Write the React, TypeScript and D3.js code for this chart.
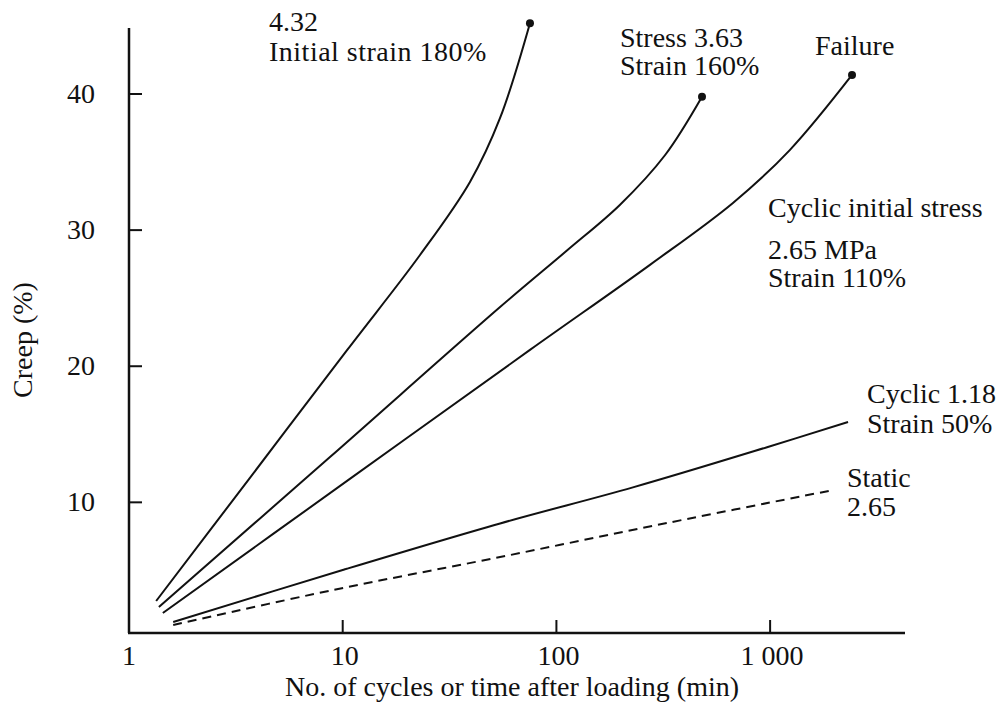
import React, { useEffect } from "react";
import * as d3 from "d3";

// ---- data (x = cycles / minutes, y = creep %) ----
const curveA_x = [1.34, 3.68, 10.5, 23.0, 39.4, 54.5, 75.2];
const curveA_y = [2.75, 11.8, 21.2, 28.17, 33.54, 38.24, 45.2];

const curveB_x = [1.38, 8.72, 54.5, 112, 198, 322, 480];
const curveB_y = [2.31, 13.33, 24.35, 28.5, 31.85, 35.5, 39.8];

const curveC_x = [1.44, 10.8, 75.2, 274, 670, 1239, 2417];
const curveC_y = [1.87, 11.72, 21.2, 27.45, 32.0, 35.9, 41.4];

const curveD_x = [1.61, 10.0, 54.5, 228, 967, 2315];
const curveD_y = [1.21, 5.03, 8.45, 11.1, 14.05, 15.9];

const curveE_x = [1.61, 9.01, 54.5, 329, 1969];
const curveE_y = [0.99, 3.56, 5.98, 8.48, 10.9];

const xTicks = [1, 10, 100, 1000];
const xTickLabels = ["1", "10", "100", "1 000"];
const yTicks = [10, 20, 30, 40];

const xTitle = "No. of cycles or time after loading (min)";
const yTitle = "Creep (%)";

const FONT = "'Liberation Serif', 'Times New Roman', serif";

export default function App() {
  useEffect(() => {
    document.body.style.margin = "0";
  }, []);

  const W = 999;
  const H = 702;
  const x = d3.scaleLog().domain([1, 4277]).range([129, 905]);
  const y = d3.scaleLinear().domain([0.4, 44.85]).range([633, 28]);

  const line = d3
    .line<[number, number]>()
    .x((d) => x(d[0]))
    .y((d) => y(d[1]))
    .curve(d3.curveCatmullRom.alpha(0.5));

  const zip = (xs: number[], ys: number[]) =>
    xs.map((v, i) => [v, ys[i]] as [number, number]);

  const solid = [
    zip(curveA_x, curveA_y),
    zip(curveB_x, curveB_y),
    zip(curveC_x, curveC_y),
    zip(curveD_x, curveD_y),
  ];
  const dashed = zip(curveE_x, curveE_y);
  const ends = [solid[0], solid[1], solid[2]].map((s) => s[s.length - 1]);

  const [x0, x1] = x.range();
  const [y0, y1] = y.range();

  const txt = { fontFamily: FONT, fontSize: 28, fill: "#111" } as const;

  return (
    <svg width={W} height={H} style={{ display: "block", background: "#fff" }}>
      {/* axes */}
      <line x1={x0} y1={y0} x2={x0} y2={y1} stroke="#111" strokeWidth={2.5} />
      <line x1={x0 - 1} y1={y0} x2={x1} y2={y0} stroke="#111" strokeWidth={2.5} />
      {yTicks.map((t) => (
        <g key={"yt" + t}>
          <line x1={x0} x2={x0 + 13} y1={y(t)} y2={y(t)} stroke="#111" strokeWidth={2} />
          <text x={95} y={y(t) + 9} textAnchor="end" {...txt}>
            {t}
          </text>
        </g>
      ))}
      {xTicks.map((t, i) => (
        <g key={"xt" + t}>
          {i > 0 && (
            <line x1={x(t)} x2={x(t)} y1={y0} y2={y0 - 13} stroke="#111" strokeWidth={2} />
          )}
          <text x={x(t) + (i === 0 ? 0 : 2)} y={665} textAnchor="middle" {...txt}>
            {xTickLabels[i]}
          </text>
        </g>
      ))}
      <text x={512} y={696} textAnchor="middle" {...txt}>
        {xTitle}
      </text>
      <text
        transform={`translate(32, 340) rotate(-90)`}
        textAnchor="middle"
        {...txt}
      >
        {yTitle}
      </text>

      {/* curves */}
      {solid.map((s, i) => (
        <path key={"c" + i} d={line(s) || ""} fill="none" stroke="#111" strokeWidth={2} />
      ))}
      <path d={line(dashed) || ""} fill="none" stroke="#111" strokeWidth={2} strokeDasharray="9,6" />
      {ends.map((p, i) => (
        <circle key={"e" + i} cx={x(p[0])} cy={y(p[1])} r={4} fill="#111" />
      ))}

      {/* annotations */}
      <text x={269} y={31} {...txt}>4.32</text>
      <text x={269} y={61} {...txt} letterSpacing={0.5}>Initial strain 180%</text>
      <text x={620} y={47} {...txt}>Stress 3.63</text>
      <text x={620} y={75} {...txt}>Strain 160%</text>
      <text x={815} y={55} {...txt}>Failure</text>
      <text x={768} y={217} {...txt}>Cyclic initial stress</text>
      <text x={768} y={259} {...txt}>2.65 MPa</text>
      <text x={768} y={287} {...txt}>Strain 110%</text>
      <text x={867} y={403} {...txt}>Cyclic 1.18</text>
      <text x={867} y={433} {...txt}>Strain 50%</text>
      <text x={847} y={487} {...txt}>Static</text>
      <text x={847} y={516} {...txt}>2.65</text>
    </svg>
  );
}
